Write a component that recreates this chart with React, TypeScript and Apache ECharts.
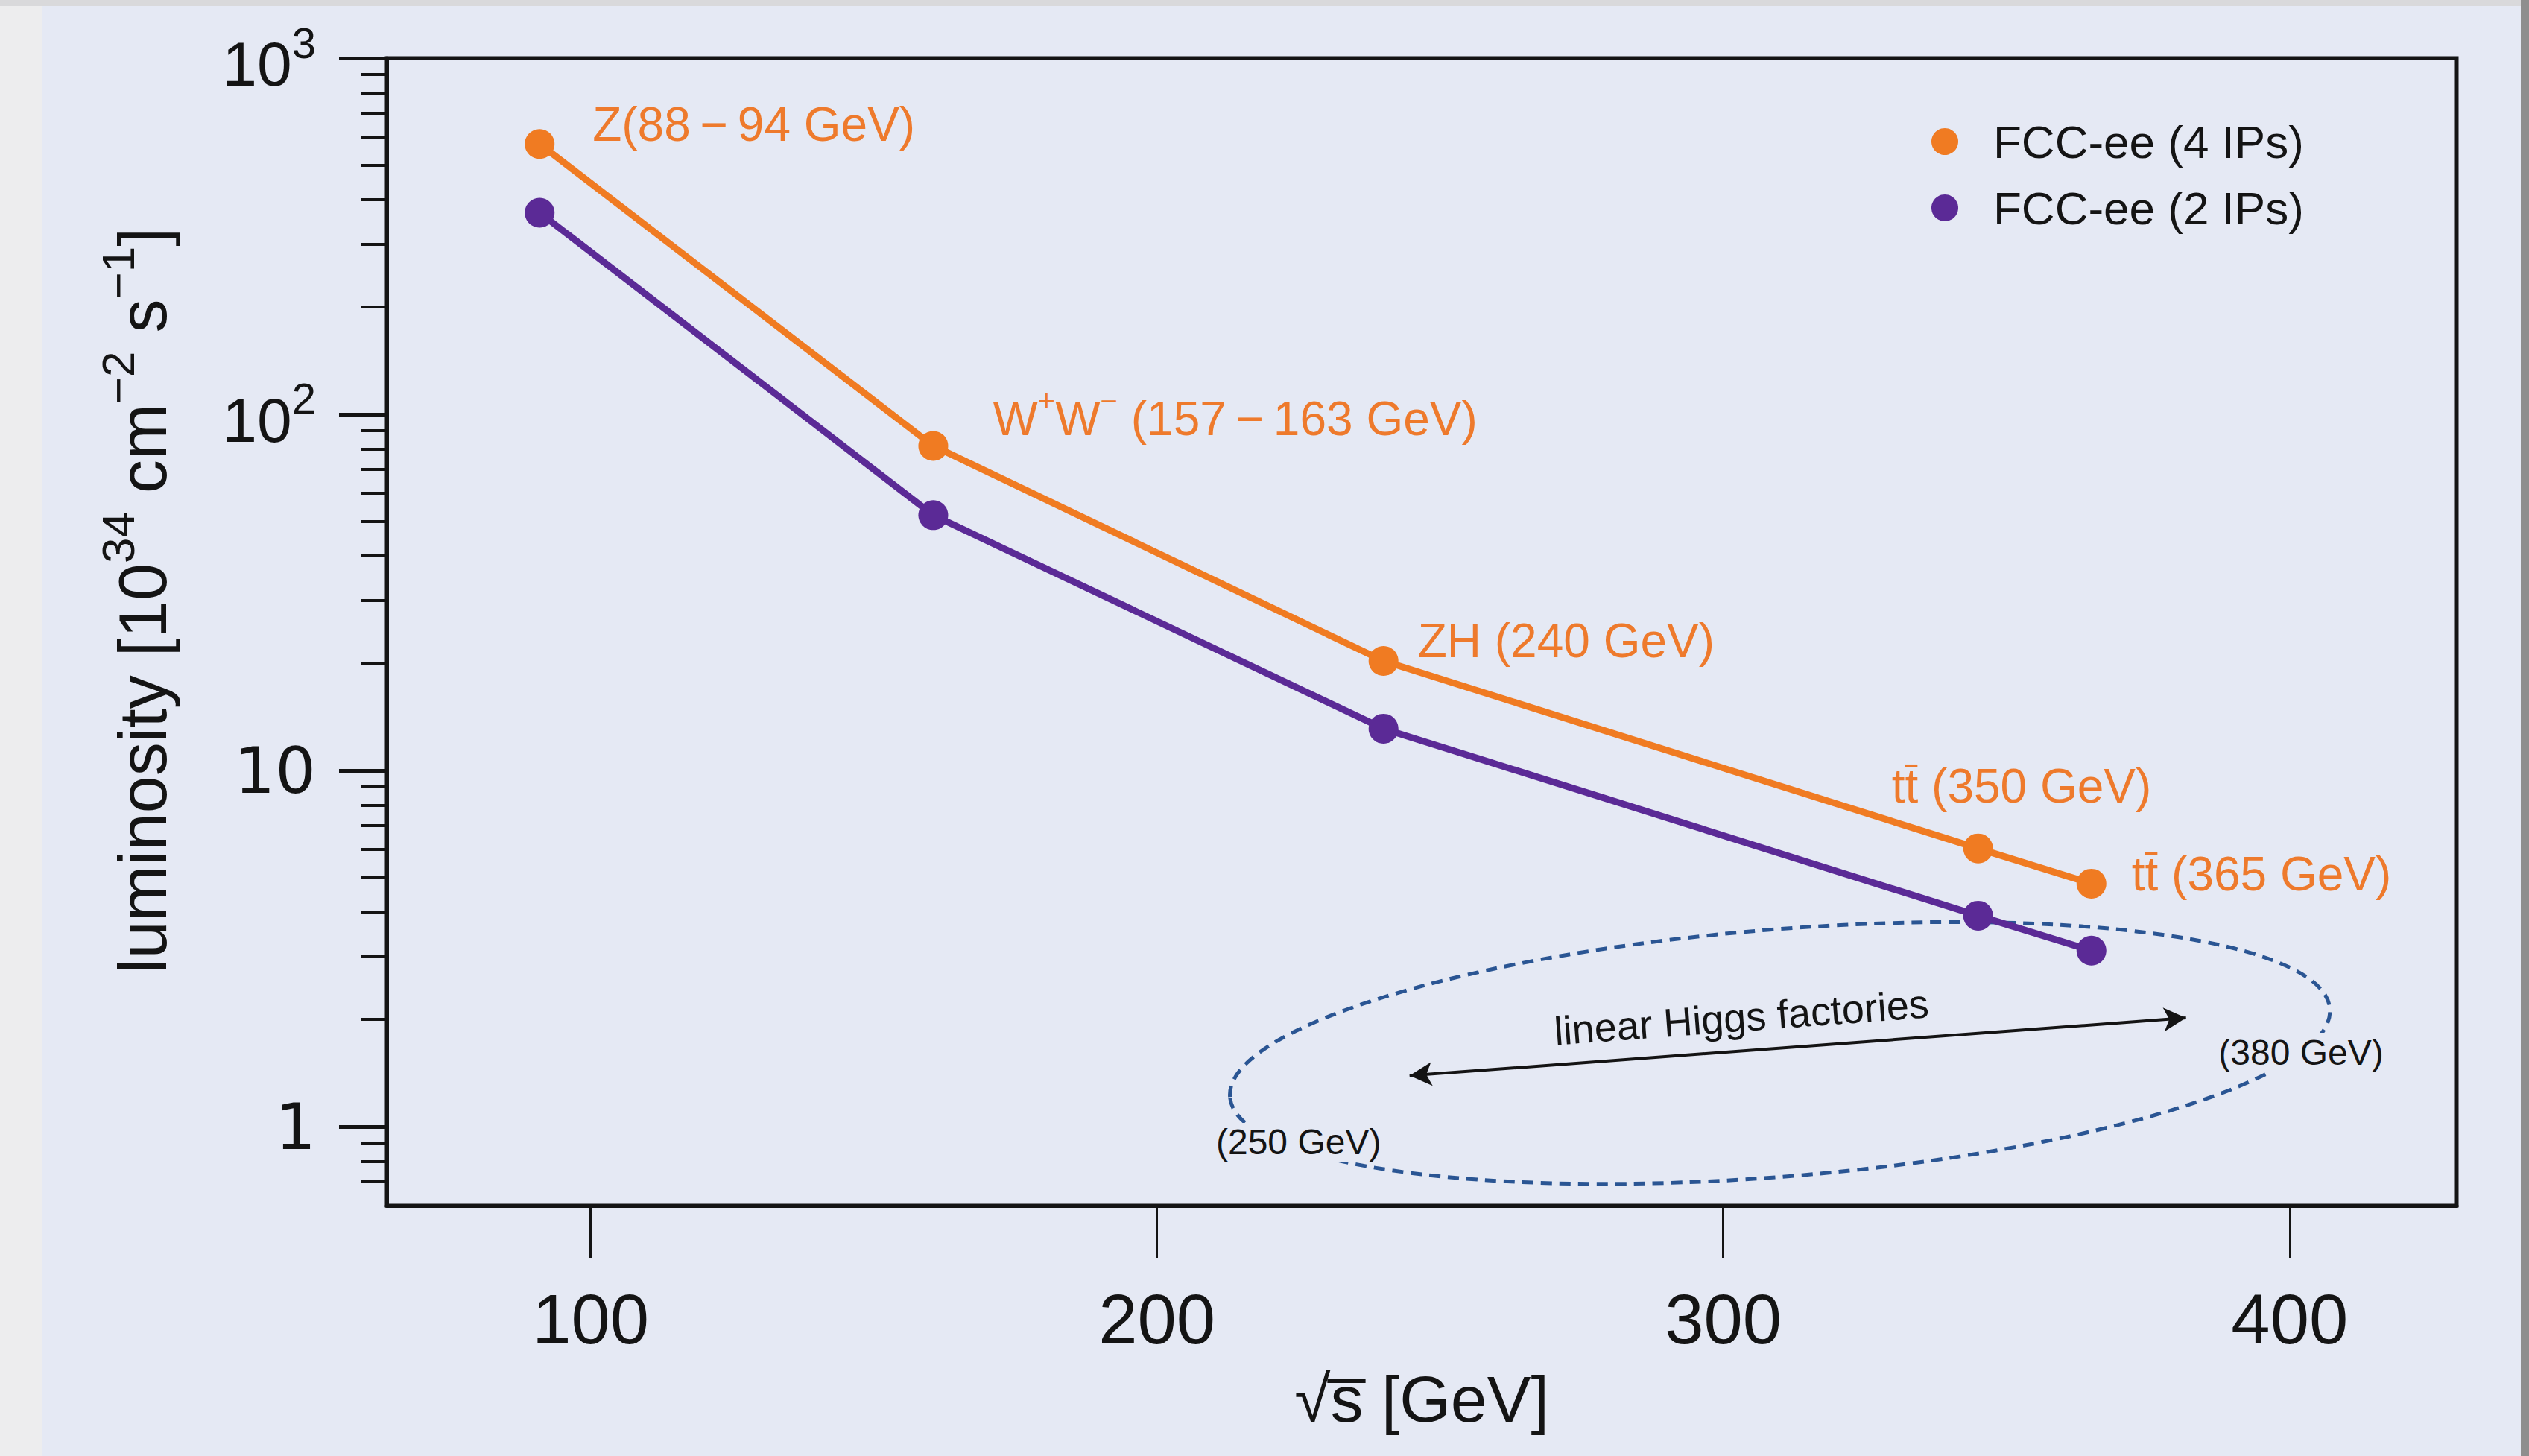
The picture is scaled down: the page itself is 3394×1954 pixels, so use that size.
import React, { useEffect, useRef } from 'react';
import * as echarts from 'echarts';

// ---------------- data ----------------
const energies = [91, 160.5, 240, 345, 365];
const lumi4IPs = [574, 81.5, 20.3, 6.04, 4.81];
const lumi2IPs = [368, 52.1, 13.1, 3.91, 3.12];
const seriesNames = ['FCC-ee (4 IPs)', 'FCC-ee (2 IPs)'];
const pointLabels = [
  '{a|Z(88\u2009−\u200994 GeV)}',
  '{a|W}{s|+}{a|W}{s|−}{a| (157\u2009−\u2009163 GeV)}',
  '{a|ZH (240 GeV)}',
  '{a|tt\u0304 (350 GeV)}',
  '{a|tt\u0304 (365 GeV)}',
];
const xTickValues = [100, 200, 300, 400];
const yMajorTickValues = [1, 10, 100, 1000];
const yMinorTickValues = [
  0.7, 0.8, 0.9,
  2, 3, 4, 5, 6, 7, 8, 9,
  20, 30, 40, 50, 60, 70, 80, 90,
  200, 300, 400, 500, 600, 700, 800, 900,
];
const xRange = [64, 429.5];
const yRange = [0.6, 1000];

// annotation anchors (data coordinates)
const ellipseCenter = [310, 1.61];
const ellipseHalfWidthGeV = 97.4;
const ellipseHalfHeightDecades = 0.347;
const arrowFrom = [244.6, 1.39];
const arrowTo = [381.7, 2.02];
const arrowCaption = 'linear Higgs factories';
const arrowCaptionAt = [303.2, 2.03];
const endpointLabels = ['(250 GeV)', '(380 GeV)'];
const endpointLabelAt = [
  [225, 0.904],
  [402, 1.618],
];

// ---------------- styles ----------------
const ORANGE = '#F07B22';
const ORANGE_TEXT = '#EE7A2C';
const PURPLE = '#5B2A96';
const BG = '#E5E9F4';
const INK = '#141414';
const ELLIPSE = '#2A5593';
const SANS = '"Liberation Sans", Arial, sans-serif';
const labelOffsets = [
  [71, -32],
  [80, -42],
  [46, -33],
  [-116, -90],
  [54, -19],
];
const ellipseTilt = 0.08;

export default function App() {
  const ref = useRef<HTMLDivElement>(null);

  useEffect(() => {
    if (!ref.current) return;
    const chart = echarts.init(ref.current, null, { renderer: 'svg' });

    const labelRich = {
      a: { fontSize: 64, fontFamily: SANS, color: ORANGE_TEXT, lineHeight: 76, verticalAlign: 'bottom' },
      s: { fontSize: 40, fontFamily: SANS, color: ORANGE_TEXT, lineHeight: 40, verticalAlign: 'top' },
    };

    const orangeData = energies.map((e, i) => ({
      value: [e, lumi4IPs[i]],
      label: {
        show: true,
        position: 'inside',
        align: 'left',
        verticalAlign: 'middle',
        offset: labelOffsets[i],
        formatter: pointLabels[i],
        color: ORANGE_TEXT,
        rich: labelRich,
      },
    }));
    const purpleData = energies.map((e, i) => [e, lumi2IPs[i]]);

    const yLabelRich = {
      b: { fontSize: 84, fontFamily: SANS, color: INK, lineHeight: 100, verticalAlign: 'bottom' },
      sup: { fontSize: 58, fontFamily: SANS, color: INK, lineHeight: 58, verticalAlign: 'top' },
      c: { fontSize: 86, fontFamily: '"DejaVu Sans", sans-serif', color: INK, lineHeight: 100 },
    };

    const option: any = {
      animation: false,
      backgroundColor: BG,
      textStyle: { fontFamily: SANS },
      grid: {
        left: 519,
        top: 78,
        width: 2778,
        height: 1540,
        show: true,
        borderColor: INK,
        borderWidth: 5,
        backgroundColor: 'transparent',
        containLabel: false,
        outerBoundsMode: 'none',
      },
      legend: {
        orient: 'vertical',
        left: 2592,
        top: 159,
        padding: 0,
        itemWidth: 120,
        itemHeight: 36,
        itemGap: 27,
        icon: 'circle',
        data: seriesNames,
        textStyle: { fontSize: 62, color: INK, fontFamily: SANS },
        selectedMode: false,
      },
      xAxis: {
        type: 'value',
        min: xRange[0],
        max: xRange[1],
        name: '√s\u0305 [GeV]',
        nameLocation: 'middle',
        nameGap: 215,
        nameTextStyle: { fontSize: 88, color: INK, fontFamily: SANS },
        axisLine: { show: true, lineStyle: { color: INK, width: 5 } },
        axisTick: { show: true, customValues: xTickValues, length: 70, lineStyle: { color: INK, width: 3 } },
        axisLabel: { show: true, customValues: xTickValues, margin: 105, fontSize: 94, color: INK, fontFamily: SANS },
        splitLine: { show: false },
      },
      yAxis: [
        {
          type: 'log',
          logBase: 10,
          min: yRange[0],
          max: yRange[1],
          position: 'left',
          axisLine: { show: true, lineStyle: { color: INK, width: 5 } },
          axisTick: { show: true, customValues: yMajorTickValues, length: 64, lineStyle: { color: INK, width: 5 } },
          axisLabel: {
            show: true,
            customValues: yMajorTickValues,
            margin: 95,
            rich: yLabelRich,
            formatter: (v: number) => {
              const r = Math.round(v);
              if (r === 1000) return '{b|10}{sup|3}';
              if (r === 100) return '{b|10}{sup|2}';
              if (r === 10) return '{c|10}';
              if (r === 1) return '{c|1}';
              return '';
            },
          },
          splitLine: { show: false },
        },
        {
          type: 'log',
          logBase: 10,
          min: yRange[0],
          max: yRange[1],
          position: 'left',
          axisLine: { show: false },
          axisTick: { show: true, customValues: yMinorTickValues, length: 35, lineStyle: { color: INK, width: 4 } },
          axisLabel: { show: false },
          splitLine: { show: false },
        },
      ],
      graphic: [
        { type: 'rect', shape: { x: 0, y: 0, width: 57, height: 1954 }, style: { fill: '#EDEDEE' }, silent: true },
        { type: 'rect', shape: { x: 0, y: 0, width: 3394, height: 8 }, style: { fill: '#D9D9DB' }, silent: true },
        { type: 'rect', shape: { x: 3383, y: 0, width: 11, height: 1954 }, style: { fill: '#8E8E8E' }, silent: true },
        {
          type: 'text',
          x: 182,
          y: 806,
          rotation: Math.PI / 2,
          silent: true,
          style: {
            text: '{a|luminosity [10}{s|34}{a| cm}{s|−2}{a| s}{s|−1}{a|]}',
            align: 'center',
            verticalAlign: 'middle',
            rich: {
              a: { fontSize: 90, fontFamily: SANS, fill: INK, lineHeight: 110, verticalAlign: 'bottom' },
              s: { fontSize: 62, fontFamily: SANS, fill: INK, lineHeight: 62, verticalAlign: 'top' },
            },
          },
        },
      ],
      series: [
        {
          name: 'annotations',
          type: 'custom',
          z: 1,
          clip: false,
          silent: true,
          data: [ellipseCenter],
          encode: { x: 0, y: 1 },
          renderItem: (_params: any, api: any) => {
            const c = api.coord(ellipseCenter);
            const rx = api.coord([ellipseCenter[0] + ellipseHalfWidthGeV, ellipseCenter[1]])[0] - c[0];
            const ry = c[1] - api.coord([ellipseCenter[0], ellipseCenter[1] * Math.pow(10, ellipseHalfHeightDecades)])[1];
            const a0 = api.coord(arrowFrom);
            const a1 = api.coord(arrowTo);
            const ang = Math.atan2(a0[1] - a1[1], a1[0] - a0[0]);
            const cap = api.coord(arrowCaptionAt);
            const children: any[] = [
              {
                type: 'ellipse',
                x: c[0],
                y: c[1],
                rotation: ellipseTilt,
                shape: { cx: 0, cy: 0, rx, ry },
                style: { fill: 'none', stroke: ELLIPSE, lineWidth: 5, lineDash: [15, 10] },
              },
              {
                type: 'text',
                x: cap[0],
                y: cap[1],
                rotation: ang,
                style: { text: arrowCaption, fill: INK, fontSize: 54, fontFamily: SANS, align: 'center', verticalAlign: 'middle' },
              },
            ];
            endpointLabels.forEach((t, i) => {
              const p = api.coord(endpointLabelAt[i]);
              children.push({
                type: 'text',
                x: p[0],
                y: p[1],
                style: {
                  text: t,
                  fill: INK,
                  fontSize: 48,
                  fontFamily: SANS,
                  align: 'center',
                  verticalAlign: 'middle',
                  backgroundColor: BG,
                  padding: [2, 4],
                },
              });
            });
            return { type: 'group', children };
          },
          markLine: {
            silent: true,
            symbol: ['arrow', 'arrow'],
            symbolSize: [24, 30],
            label: { show: false },
            lineStyle: { color: INK, width: 4, type: 'solid' },
            data: [[{ coord: arrowFrom }, { coord: arrowTo }]],
          },
        },
        {
          name: seriesNames[1],
          type: 'line',
          z: 2,
          data: purpleData,
          symbol: 'circle',
          symbolSize: 40,
          lineStyle: { color: PURPLE, width: 9 },
          itemStyle: { color: PURPLE, borderWidth: 0 },
          label: { show: false },
        },
        {
          name: seriesNames[0],
          type: 'line',
          z: 3,
          data: orangeData,
          symbol: 'circle',
          symbolSize: 40,
          lineStyle: { color: ORANGE, width: 9 },
          itemStyle: { color: ORANGE, borderWidth: 0 },
        },
      ],
    };

    chart.setOption(option);
    return () => {
      chart.dispose();
    };
  }, []);

  return <div ref={ref} style={{ position: 'fixed', left: 0, top: 0, width: 3394, height: 1954 }} />;
}
